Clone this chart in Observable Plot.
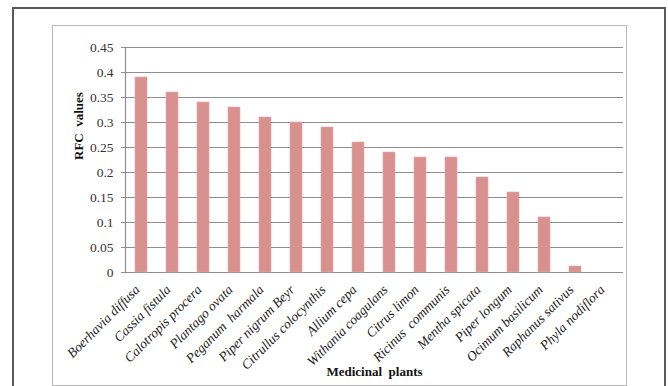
<!DOCTYPE html>
<html>
<head>
<meta charset="utf-8">
<script src="https://cdn.jsdelivr.net/npm/d3@7"></script>
<script src="https://cdn.jsdelivr.net/npm/@observablehq/plot@0.6"></script>
<style>
  html, body { margin: 0; padding: 0; background: #fff; }
  #page { position: relative; width: 668px; height: 386px; overflow: hidden; }
  #outer { position: absolute; left: 12px; top: 7px; width: 650px; height: 400px; border: 2px solid #5a5a5a; }
  #inner { position: absolute; left: 52px; top: 25px; width: 573px; height: 359px; border: 1px solid #b8b8b8; }
  #chart { position: absolute; left: 0; top: 0; }
  #chart svg, #chart svg text { font-family: "Liberation Serif", "Times New Roman", serif; }
</style>
</head>
<body>
<div id="page">
  <div id="outer"></div>
  <div id="inner"></div>
  <div id="chart"></div>
</div>
<script>
// Relative frequency of citation (RFC) per medicinal plant
const plants = [
  "Boerhavia diffusa", "Cassia fistula", "Calotropis procera", "Plantago ovata",
  "Peganum  harmala", "Piper nigrum Beyr", "Citrullus colocynthis", "Allium cepa",
  "Withania coagulans", "Citrus limon", "Ricinus  communis", "Mentha spicata",
  "Piper longum", "Ocimum basilicum", "Raphanus sativus", "Phyla nodiflora"
];
const rfc = [0.39, 0.36, 0.34, 0.33, 0.31, 0.30, 0.29, 0.26, 0.24, 0.23, 0.23, 0.19, 0.16, 0.11, 0.012, 0];
const yTicks = [0, 0.05, 0.1, 0.15, 0.2, 0.25, 0.3, 0.35, 0.4, 0.45];
const yTitle = "RFC  values";
const xTitle = "Medicinal  plants";

const serif = "Liberation Serif";
const data = plants.map((name, i) => ({name, value: rfc[i]}));

const chart = Plot.plot({
  width: 668,
  height: 386,
  marginLeft: 125,
  marginRight: 45,
  marginTop: 47,
  marginBottom: 114,
  style: {fontSize: "13px", color: "#222", background: "transparent"},
  x: {domain: plants, paddingInner: 0.61, paddingOuter: 0.3, label: null},
  y: {domain: [0, 0.45], label: null},
  marks: [
    Plot.ruleY(yTicks, {stroke: "#8e8e8e", strokeWidth: 1.2}),
    Plot.frame({anchor: "left", stroke: "#8e8e8e", strokeWidth: 1.2}),
    Plot.barY(data, {x: "name", y: "value", fill: "#d8918f", stroke: "#e2a9a8", strokeWidth: 0.6}),
    Plot.axisY({ticks: yTicks, tickSize: 4, tickPadding: 8, stroke: "#8e8e8e", fill: "#333", fontFamily: serif, fontSize: 13.5, tickFormat: d => String(+d.toFixed(2)), label: null}),
    Plot.axisX({tickSize: 0, tickPadding: 15, dx: -4, tickRotate: -45, fill: "#222", fontFamily: serif, fontStyle: "italic", fontSize: 13.5, label: null}),
    Plot.text([yTitle], {frameAnchor: "left", dx: -47, rotate: -90, fontFamily: serif, fontWeight: "bold", fontSize: 13, fill: "#111"}),
    Plot.text([xTitle], {frameAnchor: "bottom", dy: 103, fontFamily: serif, fontWeight: "bold", fontSize: 13, fill: "#111"})
  ]
});
document.getElementById("chart").appendChild(chart);
</script>
</body>
</html>
